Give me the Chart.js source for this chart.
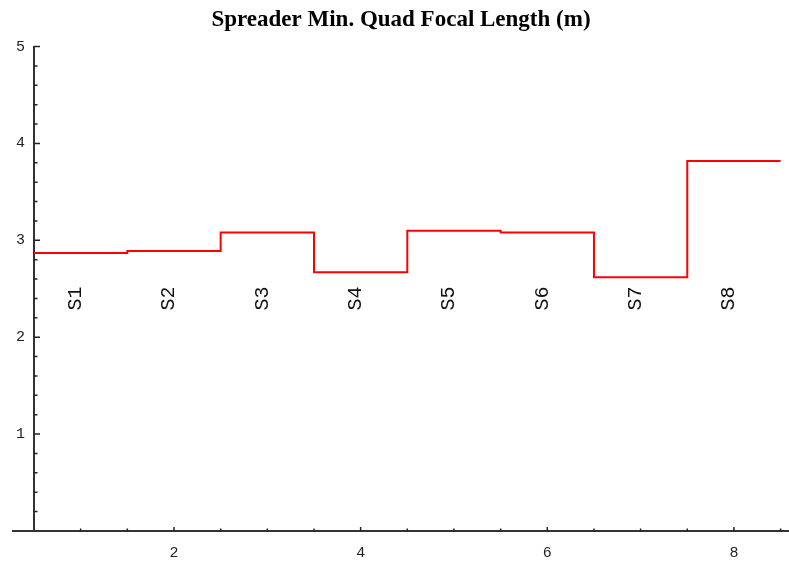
<!DOCTYPE html>
<html>
<head>
<meta charset="utf-8">
<script src="https://cdn.jsdelivr.net/npm/chart.js@4"></script>
<style>
    html, body { margin: 0; padding: 0; background: #fff; }
    #wrap { width: 789px; height: 562px; position: relative; }
</style>
</head>
<body>
<div id="wrap"><canvas id="focalChart"></canvas></div>
<script>
// Spreader sections and their minimum quad focal length (m)
const sections = ['S1', 'S2', 'S3', 'S4', 'S5', 'S6', 'S7', 'S8'];
const focalLength = [2.87, 2.89, 3.08, 2.67, 3.10, 3.08, 2.62, 3.82];
const xTickValues = [2, 4, 6, 8];
const yTickValues = [1, 2, 3, 4, 5];

document.addEventListener("DOMContentLoaded", function () {
    // each section occupies one unit, centred on its index
    const stepPoints = focalLength.map((v, i) => ({ x: i + 0.5, y: v }));
    stepPoints.push({ x: focalLength.length + 0.5, y: focalLength[focalLength.length - 1] });

    const tickFont = { family: "'Liberation Mono', monospace", size: 15 };

    // inward tick marks (Mathematica style) plus the rotated section names
    const decorations = {
        id: 'decorations',
        afterDraw(chart) {
            const { ctx, scales: { x, y } } = chart;
            const x0 = x.getPixelForValue(0.5);
            const y0 = y.getPixelForValue(0);
            ctx.save();
            ctx.strokeStyle = '#222';
            ctx.lineWidth = 1.5;
            ctx.beginPath();
            for (let v = 1; v <= 8.5; v += 0.5) {
                const px = x.getPixelForValue(v);
                const len = v % 2 === 0 ? 4 : 2.5;
                ctx.moveTo(px, y0);
                ctx.lineTo(px, y0 - len);
            }
            for (let k = 1; k <= 25; k++) {
                const py = y.getPixelForValue(k * 0.2);
                const len = k % 5 === 0 ? 6 : 3.5;
                ctx.moveTo(x0, py);
                ctx.lineTo(x0 + len, py);
            }
            ctx.stroke();

            ctx.fillStyle = '#111';
            ctx.font = "20px 'Liberation Mono', monospace";
            ctx.textAlign = 'center';
            ctx.textBaseline = 'middle';
            sections.forEach((s, i) => {
                ctx.save();
                ctx.translate(x.getPixelForValue(i + 1), y.getPixelForValue(2.4));
                ctx.rotate(-Math.PI / 2);
                ctx.fillText(s, 0, -5);
                ctx.restore();
            });
            ctx.restore();
        }
    };

    new Chart(document.getElementById('focalChart').getContext('2d'), {
        type: 'line',
        data: {
            datasets: [{
                label: 'Min. quad focal length',
                data: stepPoints,
                borderColor: '#ff0000',
                borderWidth: 2,
                pointRadius: 0,
                stepped: 'before',
                fill: false
            }]
        },
        options: {
            responsive: true,
            maintainAspectRatio: false,
            animation: false,
            layout: { padding: { top: 0, right: 0, bottom: -13, left: 13 } },
            plugins: {
                legend: { display: false },
                tooltip: { enabled: false },
                title: {
                    display: true,
                    text: 'Spreader Min. Quad Focal Length (m)',
                    color: '#000',
                    fullSize: false,
                    font: { family: "'Liberation Serif', serif", size: 23, weight: 'bold' },
                    padding: { top: 6, bottom: 13 }
                }
            },
            scales: {
                x: {
                    type: 'linear',
                    position: 'bottom',
                    min: 0.275,
                    max: 8.59,
                    grid: { display: false, drawTicks: false },
                    border: { display: true, color: '#333', width: 2 },
                    afterBuildTicks: axis => { axis.ticks = xTickValues.map(v => ({ value: v })); },
                    ticks: { font: tickFont, color: '#222', padding: 13, maxRotation: 0, autoSkip: false }
                },
                y: {
                    type: 'linear',
                    position: { x: 0.5 },
                    min: 0,
                    max: 5,
                    grid: { display: false, drawTicks: false },
                    border: { display: true, color: '#333', width: 2 },
                    afterBuildTicks: axis => { axis.ticks = yTickValues.map(v => ({ value: v })); },
                    ticks: { font: tickFont, color: '#222', autoSkip: false, callback: v => v + ' ' }
                }
            }
        },
        plugins: [decorations]
    });
});
</script>
</body>
</html>
